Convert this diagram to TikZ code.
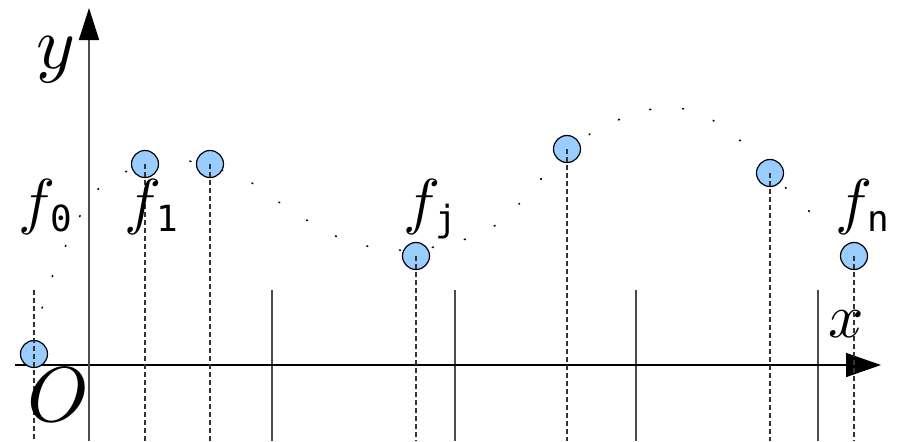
\documentclass[tikz,border=0pt]{standalone}
\usepackage{graphicx}
\usepackage{fontspec}
\newfontfamily\subfont{DejaVu Sans Mono}
\usetikzlibrary{arrows.meta}
\tikzset{
  samp/.style={circle,draw=black,line width=0.6pt,fill={rgb,255:red,153;green,204;blue,255},minimum size=13.5pt,inner sep=0pt},
  grid line/.style={draw=black!70,line width=0.6pt},
  drop/.style={draw=black!80,line width=0.6pt,dash pattern=on 2.5pt off 1.5pt},
  lab/.style={inner sep=0pt,anchor=base west},
}
\newcommand{\fsub}[1]{\scalebox{3.1}{$f$}\kern-2.5pt\raisebox{-4.5pt}{\fontsize{18}{20}\selectfont\subfont #1}}
\begin{document}
\begin{tikzpicture}[x=0.5pt,y=-0.5pt]
\useasboundingbox (0,0) rectangle (900,441);
% curve of dots
\draw[black,line width=0.8pt,dash pattern=on 0.5pt off 16pt,line cap=round]
  plot[smooth,tension=0.6] coordinates {(34,340) (43,305) (55,270) (86,205) (110,180) (145,165) (180,160) (215,168) (250,182) (283,205) (315,225) (345,240) (378,248) (415,250) (450,243) (485,232) (515,208) (540,180) (566,155) (593,132) (626,117) (660,108) (697,112) (728,131) (756,155) (783,185) (808,210) (830,235)};
% vertical grid lines
\foreach \i/\xx in {1/272,2/455,3/636,4/818}{
  \coordinate (gt\i) at (\xx,290);
  \coordinate (gb\i) at (\xx,441);
  \draw[grid line] (gt\i) -- (gb\i);
}
% axes
\coordinate (xs) at (15,365);
\coordinate (xe) at (881,365);
\coordinate (ys) at (89,441);
\coordinate (ye) at (89,8);
\draw[black,line width=0.7pt,-{Triangle[length=17.5pt,width=12pt]}] (xs) -- (xe);
\draw[black!70,line width=0.9pt,-{Triangle[length=16pt,width=10pt,color=black]}] (ys) -- (ye);
% samples
\node[samp] (p0) at (34,354) {};
\node[samp] (p1) at (145,164) {};
\node[samp] (p2) at (210,164) {};
\node[samp] (p3) at (416,256) {};
\node[samp] (p4) at (567,149) {};
\node[samp] (p5) at (770,173) {};
\node[samp] (p6) at (854,256) {};
\coordinate (d0t) at (34,290);
\coordinate (d0b) at (34,441);
\draw[drop] (d0t) -- (d0b);
\foreach \n/\xx in {1/145,2/210,3/416,4/567,5/770,6/854}{
  \coordinate (d\n b) at (\xx,441);
  \draw[drop] (p\n.center) -- (d\n b);
}
% labels
\node[lab] (ly) at (36,68) {\scalebox{3.7}{$y$}};
\node[lab] (lx) at (828,337) {\scalebox{3.1}{$x$}};
\node[lab] (lO) at (27,421) {\scalebox{3.9}{$O$}};
\node[lab] (f0) at (18,222) {\fsub{0}};
\node[lab] (f1) at (124,222) {\fsub{1}};
\node[lab] (fj) at (403,222) {\fsub{j}};
\node[lab] (fn) at (835,222) {\fsub{n}};
\end{tikzpicture}
\end{document}
